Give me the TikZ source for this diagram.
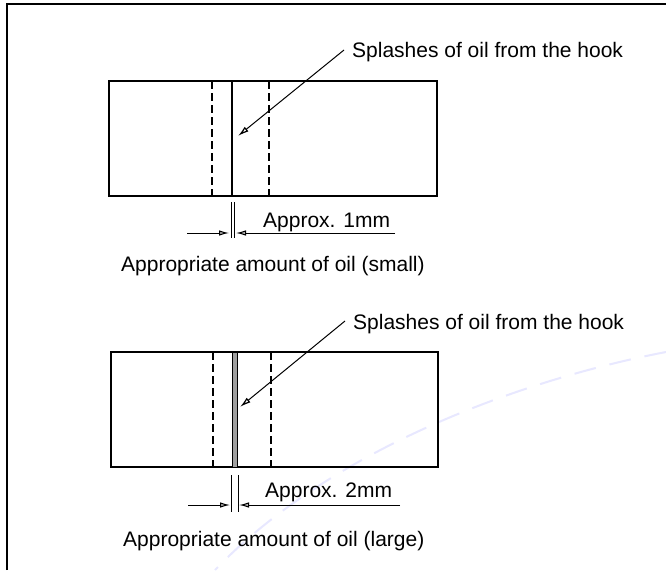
\documentclass[tikz,border=0pt]{standalone}
\usepackage{fontspec}
\setmainfont{Liberation Sans}
\usetikzlibrary{arrows.meta}
\begin{document}
\begin{tikzpicture}[x=1pt,y=-1pt,
  outline/.style={line width=1.3pt},
  hidden/.style={line width=1.3pt, dash pattern=on 8pt off 4pt},
  thin/.style={line width=0.8pt},
  leader/.style={line width=1pt, -{Latex[open,length=11pt,width=6pt,line width=1.2pt]}},
  dimarrow/.style={line width=0.8pt, -{Latex[fill=gray!60,length=10pt,width=5.5pt,line width=1pt]}},
  lbl/.style={anchor=base west, inner sep=0pt, font=\fontsize{21}{25}\selectfont},
  wm/.style={line width=2pt, blue!9, dash pattern=on 22pt off 14pt}
]
\useasboundingbox (0,0) rectangle (666,570);
\fill[white] (0,0) rectangle (666,570);
% faint watermark arc
\draw[wm] (666,352) .. controls (520,380) and (330,450) .. (215,570);
% frame
\draw[line width=2pt] (7,570) -- (7,4) -- (666,4);

% ---------- upper figure ----------
\coordinate (r1a) at (109,81);
\coordinate (r1b) at (437,196);
\draw[outline] (r1a) rectangle (r1b);
\draw[outline] (232,81) -- (232,196);
\draw[hidden] (212,81) -- (212,196);
\draw[hidden] (269,81) -- (269,196);

\node[lbl] (s1) at (352,57) {Splashes of oil from the hook};
\coordinate (t1) at (238,136);
\draw[leader] (s1.west |- 0,50) ++(-8,0) -- (t1);

\draw[thin] (231,202) -- (231,238);
\draw[thin] (234,202) -- (234,238);
\coordinate (d1l) at (187,233);
\coordinate (d1lt) at (229,233);
\coordinate (d1r) at (395,233);
\coordinate (d1rt) at (236,233);
\draw[dimarrow] (d1l) -- (d1lt);
\draw[dimarrow] (d1r) -- (d1rt);
\node[lbl] (a1) at (263,227) {Approx. 1mm};
\node[lbl] (c1) at (121,271) {Appropriate amount of oil (small)};

% ---------- lower figure ----------
\coordinate (r2a) at (111,352);
\coordinate (r2b) at (438,467);
\draw[outline] (r2a) rectangle (r2b);
\draw[thin, fill=gray!75] (232,352) rectangle (237,467);
\draw[hidden] (213,352) -- (213,467);
\draw[hidden] (271,352) -- (271,467);

\node[lbl] (s2) at (353,329) {Splashes of oil from the hook};
\coordinate (t2) at (240,407);
\draw[leader] (s2.west |- 0,321) ++(-8,0) -- (t2);

\draw[thin] (231,475) -- (231,512);
\draw[thin] (238,475) -- (238,512);
\coordinate (d2l) at (188,505);
\coordinate (d2lt) at (230,505);
\coordinate (d2r) at (400,505);
\coordinate (d2rt) at (239,505);
\draw[dimarrow] (d2l) -- (d2lt);
\draw[dimarrow] (d2r) -- (d2rt);
\node[lbl] (a2) at (265,497) {Approx. 2mm};
\node[lbl] (c2) at (123,546) {Appropriate amount of oil (large)};
\end{tikzpicture}
\end{document}
